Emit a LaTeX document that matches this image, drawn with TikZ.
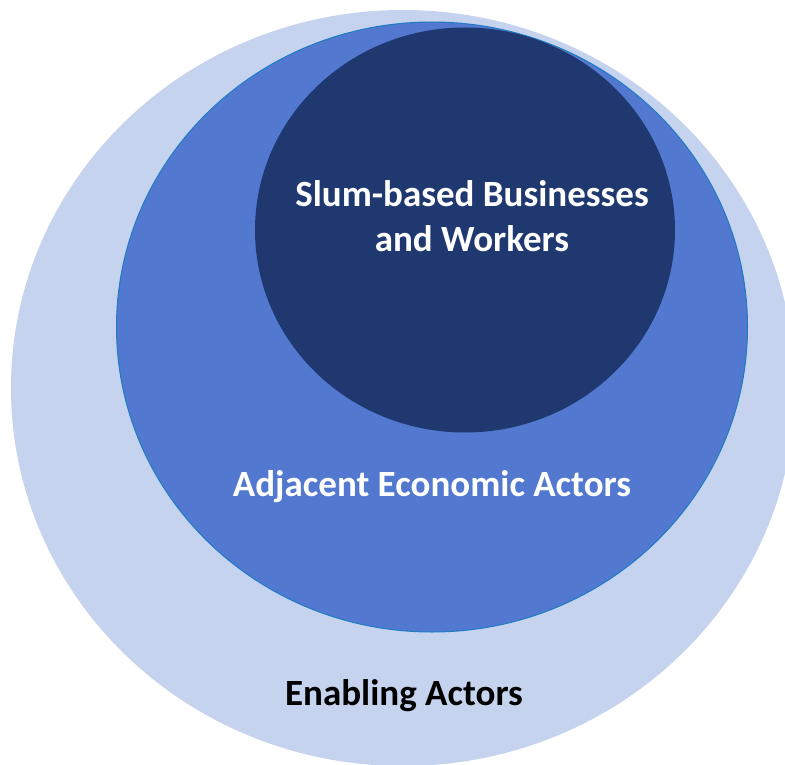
\documentclass[tikz,border=0pt]{standalone}
\usepackage{fontspec}
\setmainfont{Carlito}
\usetikzlibrary{shapes.geometric}
\definecolor{outerblue}{HTML}{C5D3EE}
\definecolor{midblue}{HTML}{5279CF}
\definecolor{midline}{HTML}{1F7BC4}
\definecolor{innerblue}{HTML}{1F3870}
\tikzset{
  ring/.style={ellipse, inner sep=0pt, outer sep=0pt},
  lbl/.style={font=\fontsize{37}{45}\selectfont\bfseries, align=center, inner sep=0pt}
}
\begin{document}
\begin{tikzpicture}[x=1pt,y=-1pt]
\useasboundingbox (0,0) rectangle (785,765);
\clip (0,0) rectangle (785,765);
\node[ring, fill=outerblue, minimum width=784pt, minimum height=756pt] (outer) at (403,388) {};
\node[ring, fill=midblue, draw=midline, line width=1pt, minimum width=631pt, minimum height=610pt] (middle) at (432,327) {};
\node[ring, fill=innerblue, minimum width=420pt, minimum height=405pt] (inner) at (465,230) {};
\node[lbl, text=white] (t1) at (472,216) {Slum-based Businesses\\and Workers};
\node[lbl, text=white] (t2) at (432,487) {Adjacent Economic Actors};
\node[lbl, text=black] (t3) at (404,696) {Enabling Actors};
\end{tikzpicture}
\end{document}
